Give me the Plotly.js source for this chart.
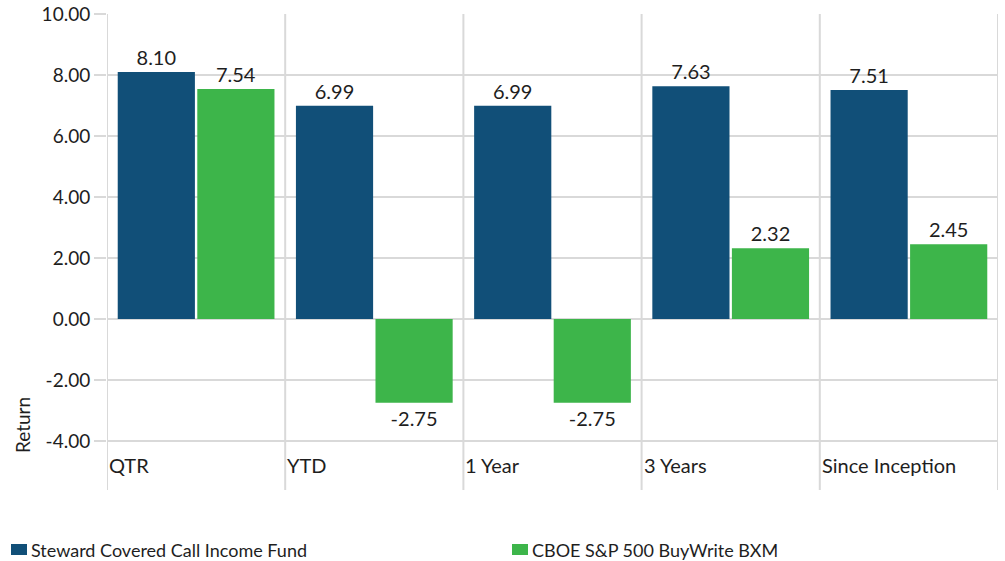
<!DOCTYPE html>
<html>
<head>
<meta charset="utf-8">
<script src="https://cdn.plot.ly/plotly-3.0.1.min.js"></script>
<style>html,body{margin:0;padding:0;background:#fff;}#chart{width:1005px;height:561px;}</style>
</head>
<body>
<div id="chart"></div>
<script>
var categories = ["QTR", "YTD", "1 Year", "3 Years", "Since Inception"];
var fundName = "Steward Covered Call Income Fund";
var fundValues = [8.10, 6.99, 6.99, 7.63, 7.51];
var indexName = "CBOE S&P 500 BuyWrite BXM";
var indexValues = [7.54, -2.75, -2.75, 2.32, 2.45];
var yTicks = [-4, -2, 0, 2, 4, 6, 8, 10];
var yTitle = "Return";

var FONT = "Lato, 'Open Sans', sans-serif";
var GRID = "#d9d9d9";
var TEXT = "#1e1e1e";
var COLORS = ["#114f78", "#3db54a"];
var idx = categories.map(function (c, i) { return i; });

var series = [
  { name: fundName, values: fundValues },
  { name: indexName, values: indexValues }
];

var traces = series.map(function (s, k) {
  return {
    type: "bar", name: s.name, x: idx, y: s.values,
    marker: { color: COLORS[k] },
    texttemplate: "%{y:.2f}", textposition: "outside", cliponaxis: false,
    textfont: { family: FONT, size: 20, color: TEXT },
    hoverinfo: "y", showlegend: false
  };
});

// plot-area geometry in pixels (used to convert legend / label positions)
var W = 1005, H = 561, ML = 107, MR = 7, MT = 14, MB = 71;
var PW = W - ML - MR, PH = H - MT - MB;
function px2x(px) { return (px - ML) / PW; }
function py2y(py) { return (H - MB - py) / PH; }

var shapes = [];
for (var i = 0; i <= categories.length; i++) {
  shapes.push({
    type: "line", xref: "x", yref: "paper", x0: i - 0.5, x1: i - 0.5, y0: 0, y1: 1,
    line: { color: GRID, width: 2 }, layer: "below"
  });
}

var annotations = categories.map(function (c, i) {
  return {
    text: c, xref: "x", yref: "y", x: i - 0.5, y: -4.79,
    xanchor: "left", yanchor: "middle", showarrow: false,
    font: { family: FONT, size: 20, color: TEXT }
  };
});
annotations.push({
  text: yTitle, textangle: -90, xref: "paper", yref: "y", x: px2x(22), y: -3.48,
  xanchor: "center", yanchor: "middle", showarrow: false,
  font: { family: FONT, size: 19, color: TEXT }
});

// legend (drawn manually to match the reference layout)
var legendStarts = [11, 512];
series.forEach(function (s, k) {
  var x0 = legendStarts[k];
  shapes.push({
    type: "rect", xref: "paper", yref: "paper",
    x0: px2x(x0), x1: px2x(x0 + 16), y0: py2y(555), y1: py2y(544),
    fillcolor: COLORS[k], line: { width: 0 }
  });
  annotations.push({
    text: s.name, xref: "paper", yref: "paper", x: px2x(x0 + 18), y: py2y(549.5),
    xanchor: "left", yanchor: "middle", showarrow: false,
    font: { family: FONT, size: 18, color: TEXT }
  });
});

var layout = {
  width: W, height: H,
  margin: { l: ML, r: MR, t: MT, b: MB, autoexpand: false },
  paper_bgcolor: "#fff", plot_bgcolor: "#fff",
  font: { family: FONT, size: 18, color: TEXT },
  barmode: "group", bargap: 0.107, bargroupgap: 0.03,
  xaxis: {
    range: [-0.5, categories.length - 0.5], showticklabels: false,
    showgrid: false, zeroline: false, showline: false, ticks: "", fixedrange: true
  },
  yaxis: {
    range: [-5.61, 10], tickvals: yTicks,
    ticktext: yTicks.map(function (v) { return v.toFixed(2); }),
    showgrid: true, gridcolor: GRID, gridwidth: 2, zeroline: false, showline: false,
    ticks: "outside", ticklen: 12, tickcolor: GRID, tickwidth: 2,
    tickfont: { family: FONT, size: 19, color: TEXT }, fixedrange: true
  },
  shapes: shapes,
  annotations: annotations,
  showlegend: false
};

Plotly.newPlot("chart", traces, layout, { displayModeBar: false, staticPlot: true });
</script>
</body>
</html>
